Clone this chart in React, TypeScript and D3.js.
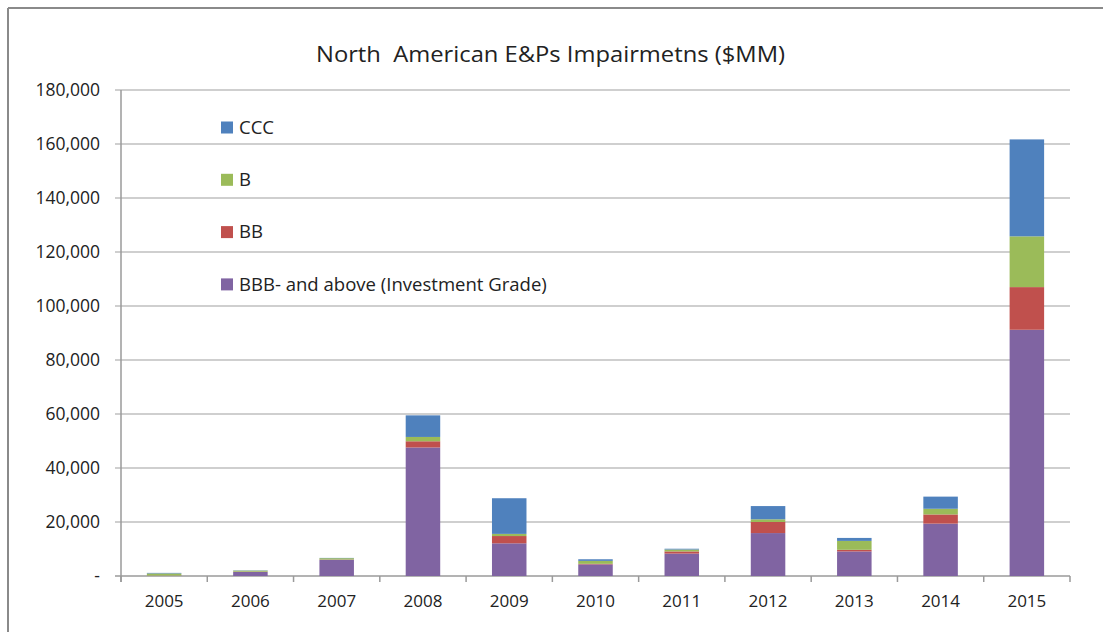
import React from "react";
import * as d3 from "d3";

const years = ["2005", "2006", "2007", "2008", "2009", "2010", "2011", "2012", "2013", "2014", "2015"];
const seriesNames = ["BBB- and above (Investment Grade)", "BB", "B", "CCC"];
const bbbValues = [100, 1500, 6000, 47600, 12100, 4300, 8300, 15900, 9100, 19400, 91200];
const bbValues = [50, 100, 100, 2300, 2700, 200, 800, 4100, 600, 3400, 15800];
const bValues = [800, 400, 500, 1600, 800, 1100, 700, 1000, 3300, 2100, 18800];
const cccValues = [200, 100, 100, 8000, 13200, 600, 300, 4900, 1100, 4500, 35900];
const yTicks = [0, 20000, 40000, 60000, 80000, 100000, 120000, 140000, 160000, 180000];
const colors = ["#8064A2", "#C0504D", "#9BBB59", "#4F81BD"];
const title = "North  American E&Ps Impairmetns ($MM)";

const W = 1103;
const H = 632;
const left = 121;
const right = 1070;
const top = 90;
const bottom = 576;
const font = "'Open Sans', sans-serif";

export default function App() {
  const x = d3.scaleBand<string>().domain(years).range([left, right]).paddingInner(0.6).paddingOuter(0.3);
  const y = d3.scaleLinear().domain([0, 180000]).range([bottom, top]);
  const rows = years.map((yr, i) => ({
    year: yr,
    s0: bbbValues[i],
    s1: bbValues[i],
    s2: bValues[i],
    s3: cccValues[i],
  }));
  const stack = d3.stack<any>().keys(["s0", "s1", "s2", "s3"]);
  const layers = stack(rows);
  const fmt = (v: number) => (v === 0 ? "-" : d3.format(",")(v));
  const step = x.step();
  const boundaries = d3.range(years.length + 1).map((i) => left + i * step);
  const legendOrder = [3, 2, 1, 0];

  return (
    <svg width={W} height={H} style={{ position: "absolute", left: 0, top: 0, background: "#fff" }}>
      <rect x={0} y={0} width={W} height={H} fill="#fff" />
      <line x1={8} y1={8} x2={W} y2={8} stroke="#8a8a8a" strokeWidth={2} />
      <line x1={8} y1={8} x2={8} y2={H} stroke="#8a8a8a" strokeWidth={2} />
      <text
        x={550.5}
        y={62}
        textAnchor="middle"
        fontFamily={font}
        fontSize={21.5}
        fill="#222"
        textLength={469}
        lengthAdjust="spacingAndGlyphs"
        style={{ whiteSpace: "pre" }}
      >
        {title}
      </text>
      {yTicks.map((t) => (
        <g key={t}>
          <line x1={115} x2={right} y1={y(t)} y2={y(t)} stroke={t === 0 ? "#9a9a9a" : "#bfbfbf"} strokeWidth={1.5} />
          <text x={100} y={y(t)} dy="0.36em" textAnchor="end" fontFamily={font} fontSize={17.5} fill="#222">
            {fmt(t)}
          </text>
        </g>
      ))}
      <line x1={left} x2={left} y1={top} y2={bottom + 6} stroke="#9a9a9a" strokeWidth={1.5} />
      {boundaries.map((bx, i) => (
        <line key={i} x1={bx} x2={bx} y1={bottom} y2={bottom + 6} stroke="#9a9a9a" strokeWidth={1.5} />
      ))}
      {layers.map((layer, li) => (
        <g key={li} fill={colors[li]}>
          {layer.map((d: any, i: number) => (
            <rect key={i} x={x(years[i])} width={x.bandwidth()} y={y(d[1])} height={Math.max(0, y(d[0]) - y(d[1]))} />
          ))}
        </g>
      ))}
      {years.map((yr) => (
        <text key={yr} x={(x(yr) as number) + x.bandwidth() / 2} y={607} textAnchor="middle" fontFamily={font} fontSize={17} fill="#222">
          {yr}
        </text>
      ))}
      {legendOrder.map((si, k) => (
        <g key={si} transform={`translate(221, ${127.5 + k * 52.3})`}>
          <rect x={0} y={-6} width={12} height={12} fill={colors[si]} />
          <text
            transform="translate(18,0) scale(1.06,1)"
            x={0}
            y={0}
            dy="0.36em"
            fontFamily={font}
            fontSize={17.5}
            fill="#222"
          >
            {seriesNames[si]}
          </text>
        </g>
      ))}
    </svg>
  );
}
